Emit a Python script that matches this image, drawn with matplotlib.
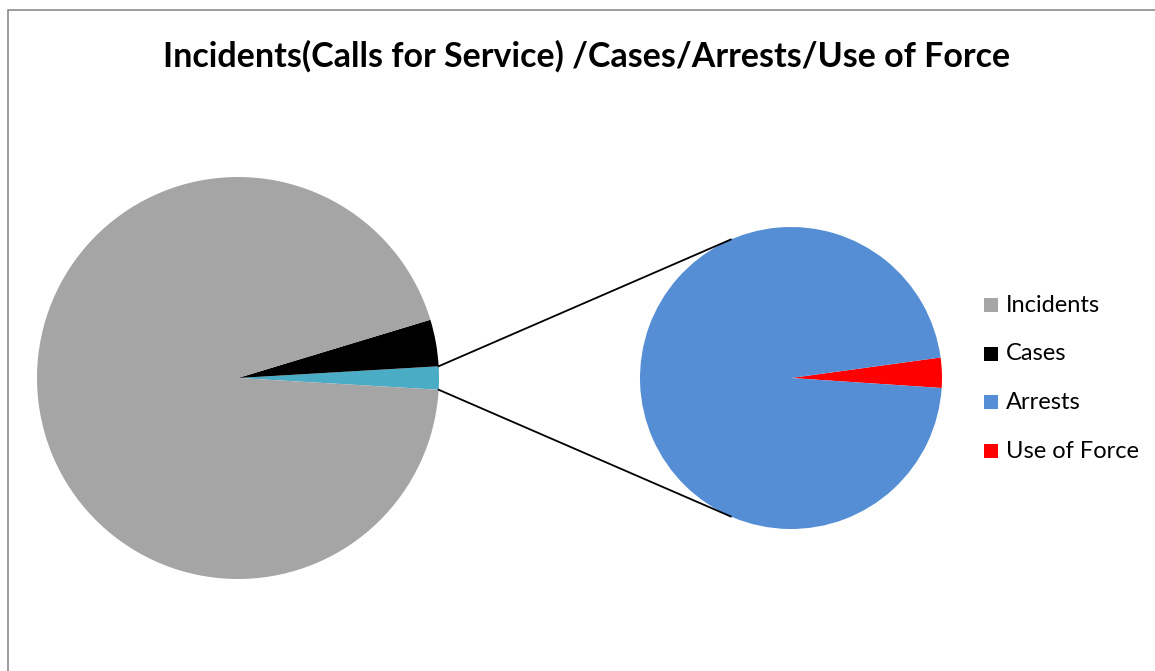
import matplotlib.pyplot as plt
import numpy as np
from matplotlib.patches import Rectangle

title = "Incidents(Calls for Service) /Cases/Arrests/Use of Force"
labels = ["Incidents", "Cases", "Arrests", "Use of Force"]
values = [9440, 375, 180, 6]
colors = ["#A5A5A5", "#000000", "#558ED5", "#FF0000"]
other_color = "#4BACC6"

W, H = 1155, 671
fig = plt.figure(figsize=(W / 100, H / 100), dpi=100)
ax = fig.add_axes([0, 0, 1, 1])

# chart border (Excel chart area)
ax.add_patch(Rectangle((8, -20), W + 40, H - 10 + 20, fill=False,
                       edgecolor="#8C8C8C", lw=1.2))

# main pie: incidents, cases, and the combined "other" slice
other = values[2] + values[3]
main_vals = [other, values[1], values[0]]
total = sum(main_vals)
other_deg = 360 * other / total
c1, r1 = (238, H - 378), 201
ax.pie(main_vals, colors=[other_color, colors[1], colors[0]], center=c1,
       radius=r1, startangle=-other_deg / 2, counterclock=True,
       wedgeprops=dict(linewidth=0), frame=True)

# secondary pie: arrests / use of force
sec_vals = [values[3], values[2]]
uof_deg = 360 * values[3] / sum(sec_vals)
c2, r2 = (791, H - 378), 151
ax.pie(sec_vals, colors=[colors[3], colors[2]], center=c2, radius=r2,
       startangle=2 - uof_deg / 2, counterclock=True,
       wedgeprops=dict(linewidth=0), frame=True)

ax.set_xlim(0, W)
ax.set_ylim(0, H)
ax.set_aspect("equal")
ax.axis("off")

# connector lines
for sgn in (1, -1):
    a1 = np.deg2rad(sgn * other_deg / 2)
    a2 = np.deg2rad(sgn * 113.5)
    ax.plot([c1[0] + r1 * np.cos(a1), c2[0] + r2 * np.cos(a2)],
            [c1[1] + r1 * np.sin(a1), c2[1] + r2 * np.sin(a2)],
            color="black", lw=1.3, zorder=5)

ax.text(587, H - 56, title, ha="center", va="center", fontsize=24.5,
        fontweight="bold", family="Lato")

# legend
for i, (lab, col) in enumerate(zip(labels, colors)):
    y = H - (305 + 48.7 * i)
    ax.add_patch(Rectangle((984, y - 7), 14, 14, color=col, lw=0))
    ax.text(1006, y, lab, ha="left", va="center", fontsize=17, family="Lato")

fig.savefig("out.png", dpi=100)
